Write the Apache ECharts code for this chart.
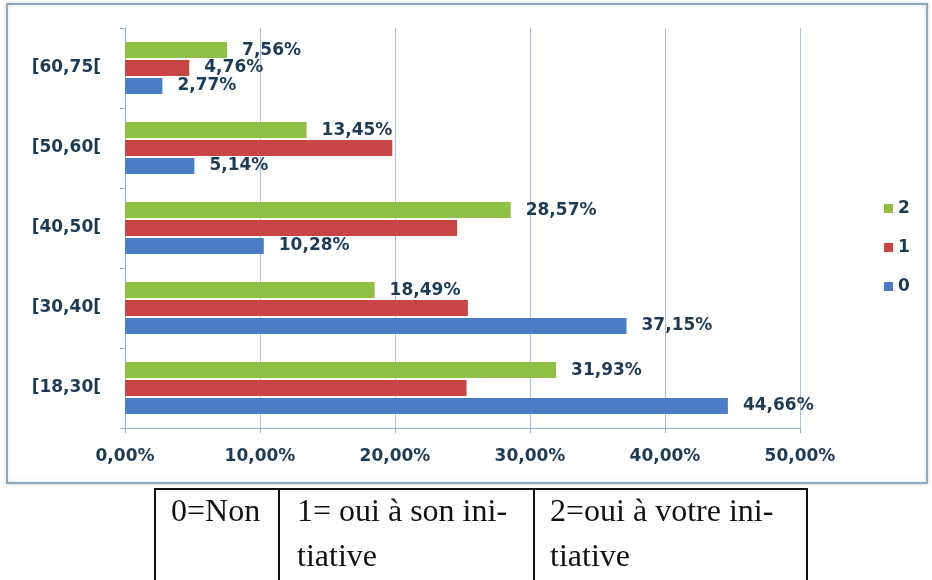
<!DOCTYPE html>
<html>
<head>
<meta charset="utf-8">
<script src="https://cdn.jsdelivr.net/npm/echarts@6/dist/echarts.min.js"></script>
<style>
  html, body { margin: 0; padding: 0; background: #fff; }
  #chart { width: 932px; height: 580px; }
</style>
</head>
<body>
<div id="chart"></div>
<script>
// tranches d'âge (du bas vers le haut)
var categories = ['[18,30[', '[30,40[', '[40,50[', '[50,60[', '[60,75[']
// 0 = Non, 1 = oui à son initiative, 2 = oui à votre initiative
var serie0 = [44.66, 37.15, 10.28, 5.14, 2.77]
var serie1 = [25.3, 25.4, 24.6, 19.8, 4.76]
var serie2 = [31.93, 18.49, 28.57, 13.45, 7.56]
var xTicks = [0, 10, 20, 30, 40, 50]
var tableRow1 = ['0=Non', '1= oui à son ini-', '2=oui à votre ini-']
var tableRow2 = ['', 'tiative', 'tiative']

var textColor = '#1d3b55'
var labelFont = { fontFamily: 'DejaVu Sans', fontSize: 17, fontWeight: 'bold', color: textColor }

function pct(v) {
  return v.toFixed(2).replace('.', ',') + '%'
}

var chart = echarts.init(document.getElementById('chart'))

// cadre du graphique + tableau en dessous
var graphics = [
  {
    type: 'rect',
    z: -10,
    shape: { x: 7, y: 4, width: 920, height: 479 },
    style: { fill: '#fff', stroke: '#90a8bb', lineWidth: 2, shadowBlur: 4, shadowColor: 'rgba(0,0,0,0.15)' },
  },
]
var colX = [155, 279, 534, 807]
var textX = [171, 297, 550]
graphics.push({
  type: 'polyline',
  shape: { points: [[colX[0], 600], [colX[0], 489], [colX[3], 489], [colX[3], 600]] },
  style: { stroke: '#111', lineWidth: 2, fill: null },
})
graphics.push({ type: 'line', shape: { x1: colX[1], y1: 489, x2: colX[1], y2: 600 }, style: { stroke: '#111', lineWidth: 2 } })
graphics.push({ type: 'line', shape: { x1: colX[2], y1: 489, x2: colX[2], y2: 600 }, style: { stroke: '#111', lineWidth: 2 } })
for (var i = 0; i < 3; i++) {
  graphics.push({
    type: 'text',
    x: textX[i], y: 513,
    style: { text: tableRow1[i], font: '32px "Liberation Serif"', fill: '#111', verticalAlign: 'middle' },
  })
  if (tableRow2[i]) {
    graphics.push({
      type: 'text',
      x: textX[i], y: 558,
      style: { text: tableRow2[i], font: '32px "Liberation Serif"', fill: '#111', verticalAlign: 'middle' },
    })
  }
}

function barSerie(name, data, color, showLabel) {
  return {
    name: name,
    type: 'bar',
    data: data,
    barWidth: 16,
    barGap: '12%',
    itemStyle: { color: color },
    label: {
      show: true,
      position: 'right',
      distance: 15,
      ...labelFont,
      formatter: function (p) {
        return showLabel(p.dataIndex) ? pct(p.value) : ''
      },
    },
  }
}

chart.setOption({
  animation: false,
  backgroundColor: '#fff',
  graphic: graphics,
  grid: { left: 125, right: 132, top: 28, bottom: 152 },
  legend: {
    data: ['2', '1', '0'],
    orient: 'vertical',
    left: 879,
    top: 195,
    itemWidth: 9,
    itemHeight: 9,
    itemGap: 22,
    itemTextGap: 3,
    icon: 'rect',
    textStyle: labelFont,
  },
  xAxis: {
    type: 'value',
    min: xTicks[0],
    max: xTicks[xTicks.length - 1],
    interval: 10,
    axisLine: { show: true, lineStyle: { color: '#8fb0cc' } },
    axisTick: { show: true, length: 5, lineStyle: { color: '#8fb0cc' } },
    splitLine: { show: true, lineStyle: { color: '#a9c4da' } },
    axisLabel: { margin: 20, ...labelFont, formatter: function (v) { return pct(v) } },
  },
  yAxis: {
    type: 'category',
    data: categories,
    axisLine: { show: true, lineStyle: { color: '#8fb0cc' } },
    axisTick: { show: true, length: 5, lineStyle: { color: '#8fb0cc' } },
    axisLabel: { margin: 24, ...labelFont },
  },
  // ordre inversé : la première série est dessinée en haut de chaque groupe
  series: [
    barSerie('2', serie2, '#8fc043', function () { return true }),
    barSerie('1', serie1, '#c74544', function (i) { return i === 4 }),
    barSerie('0', serie0, '#4a7dc3', function () { return true }),
  ],
})
</script>
</body>
</html>
